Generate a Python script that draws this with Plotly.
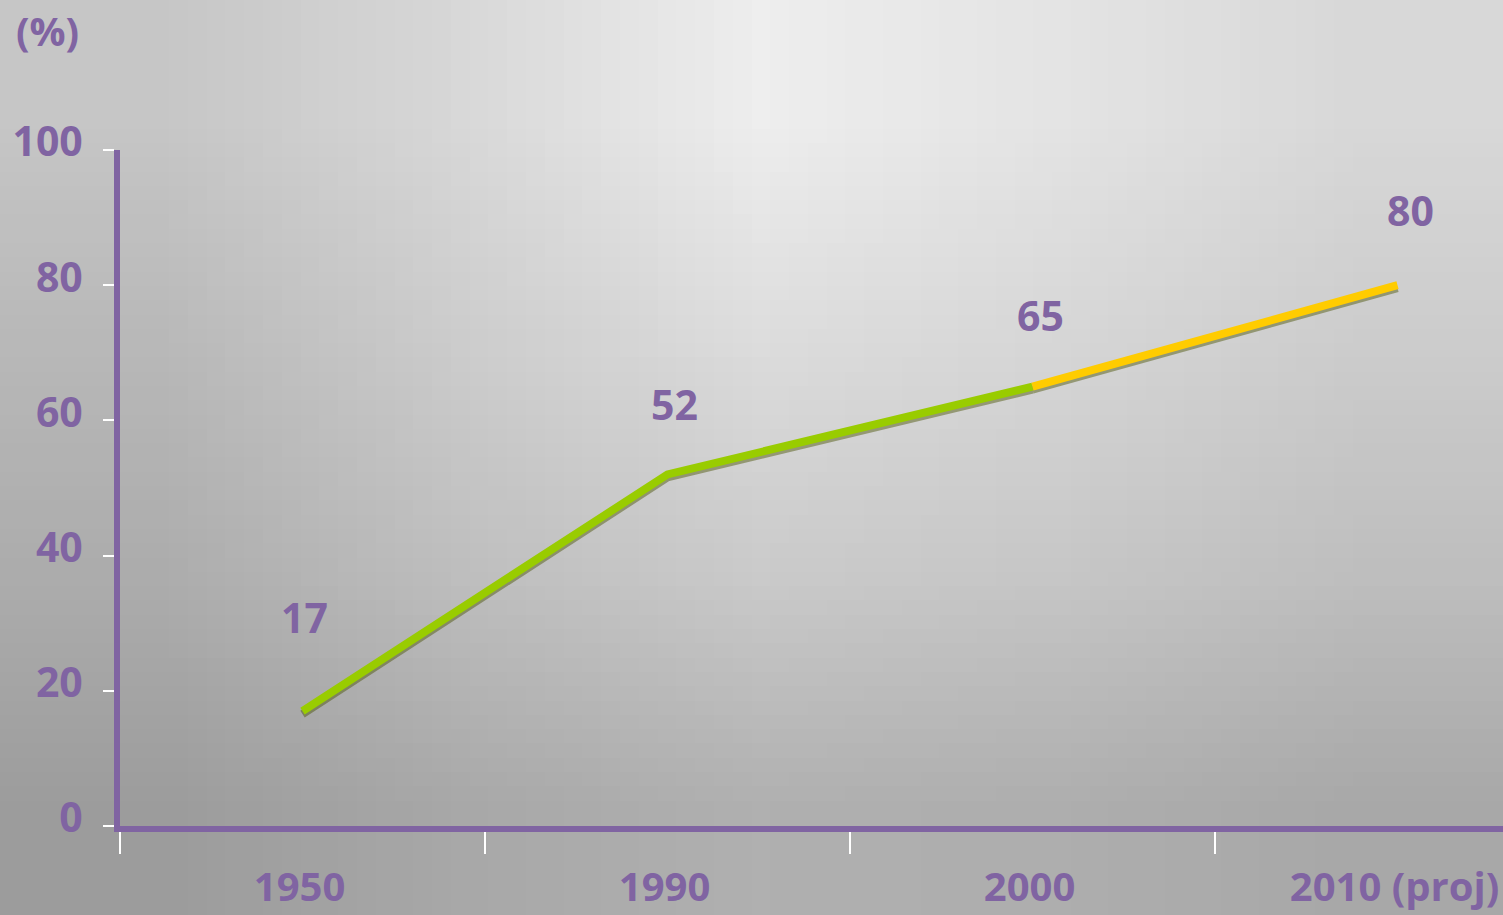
import base64
import struct
import zlib

import plotly.graph_objects as go

# data
categories = ["1950", "1990", "2000", "2010 (proj)"]
values = [17, 52, 65, 80]
y_ticks = [0, 20, 40, 60, 80, 100]
y_unit = "(%)"

# style
PURPLE = "#8064A2"
GREEN = "#99CC00"
YELLOW = "#FFCC00"
FONT = "Open Sans"
W, H = 1503, 915
# label offsets (px) above each point, as placed in the original
label_dx = [2, 7, 8, 13]
label_dy = [94, 70, 72, 75]

# gray background levels (rows top -> bottom)
bg_levels = [
    [0xC6, 0xD8, 0xEE, 0xE4, 0xD8],
    [0xB8, 0xCC, 0xDC, 0xD6, 0xCC],
    [0xAC, 0xBE, 0xCA, 0xC6, 0xBE],
    [0x9C, 0xA8, 0xB0, 0xAE, 0xA8],
]


def gray_png(rows):
    h, w = len(rows), len(rows[0])
    raw = b"".join(b"\x00" + bytes(r) for r in rows)

    def chunk(tag, data):
        crc = zlib.crc32(tag + data) & 0xFFFFFFFF
        return struct.pack(">I", len(data)) + tag + data + struct.pack(">I", crc)

    png = (b"\x89PNG\r\n\x1a\n"
           + chunk(b"IHDR", struct.pack(">IIBBBBB", w, h, 8, 0, 0, 0, 0))
           + chunk(b"IDAT", zlib.compress(raw))
           + chunk(b"IEND", b""))
    return "data:image/png;base64," + base64.b64encode(png).decode()


# plot area in pixels
x0_px, y0_px, y100_px = 120, 826, 150
cat_w = 365
x_range = [-0.5, -0.5 + (W - x0_px) / cat_w]
shadow_shift = 3 / ((y0_px - y100_px) / 100)

fig = go.Figure()

segments = [(0, 3, GREEN), (2, 4, YELLOW)]
# shadows sit on the base y axis (shifted range), colored lines on y2 above
for a, b, col in segments:
    fig.add_trace(go.Scatter(
        x=categories[a:b], y=values[a:b], mode="lines", yaxis="y",
        line=dict(color="rgba(70,80,0,0.45)", width=8),
        hoverinfo="skip", showlegend=False,
    ))
for a, b, col in segments:
    fig.add_trace(go.Scatter(
        x=categories[a:b], y=values[a:b], mode="lines", yaxis="y2",
        line=dict(color=col, width=8),
        showlegend=False,
    ))

for i, (v, dx, dy) in enumerate(zip(values, label_dx, label_dy)):
    fig.add_annotation(
        x=i, y=v, xref="x", yref="y2", text=str(v), showarrow=False,
        xshift=dx, yshift=dy,
        font=dict(family=FONT, size=41, color=PURPLE, weight="bold"),
    )

fig.add_annotation(
    x=47 / W, y=1 - 30 / H, xref="paper", yref="paper", text=y_unit,
    xanchor="center", yanchor="middle", showarrow=False,
    font=dict(family=FONT, size=40, color=PURPLE, weight="bold"),
)

y_domain = [(H - y0_px) / H, (H - y100_px) / H]

fig.update_layout(
    width=W, height=H,
    margin=dict(l=0, r=0, t=0, b=0),
    paper_bgcolor="rgba(0,0,0,0)",
    plot_bgcolor="rgba(0,0,0,0)",
    template="none",
    images=[dict(
        source=gray_png(bg_levels), xref="paper", yref="paper",
        x=0, y=1, sizex=1, sizey=1, xanchor="left", yanchor="top",
        sizing="stretch", layer="below",
    )],
    xaxis=dict(
        type="category", categoryorder="array", categoryarray=categories,
        range=x_range, domain=[x0_px / W, 1],
        tickson="boundaries", ticks="outside", ticklen=22, tickwidth=2,
        tickcolor="white", showgrid=False, zeroline=False,
        showline=True, linecolor=PURPLE, linewidth=6,
        tickfont=dict(family=FONT, size=40, color=PURPLE, weight="bold"),
        ticklabelstandoff=21, ticklabelshift=-3, automargin=False,
    ),
    yaxis=dict(
        range=[shadow_shift, 100 + shadow_shift], domain=y_domain,
        visible=False, showgrid=False, zeroline=False,
    ),
    yaxis2=dict(
        overlaying="y", side="left", range=[0, 100],
        tickvals=y_ticks, ticks="outside", ticklen=11, tickwidth=2,
        tickcolor="white", showgrid=False, zeroline=False,
        showline=True, linecolor=PURPLE, linewidth=6,
        tickfont=dict(family=FONT, size=41, color=PURPLE, weight="bold"),
        ticklabelstandoff=12, ticklabelshift=-8,
        automargin=False,
    ),
)

fig.write_html(
    "out.html",
    config={"displayModeBar": False},
    post_script="document.body.style.margin='0';",
)
